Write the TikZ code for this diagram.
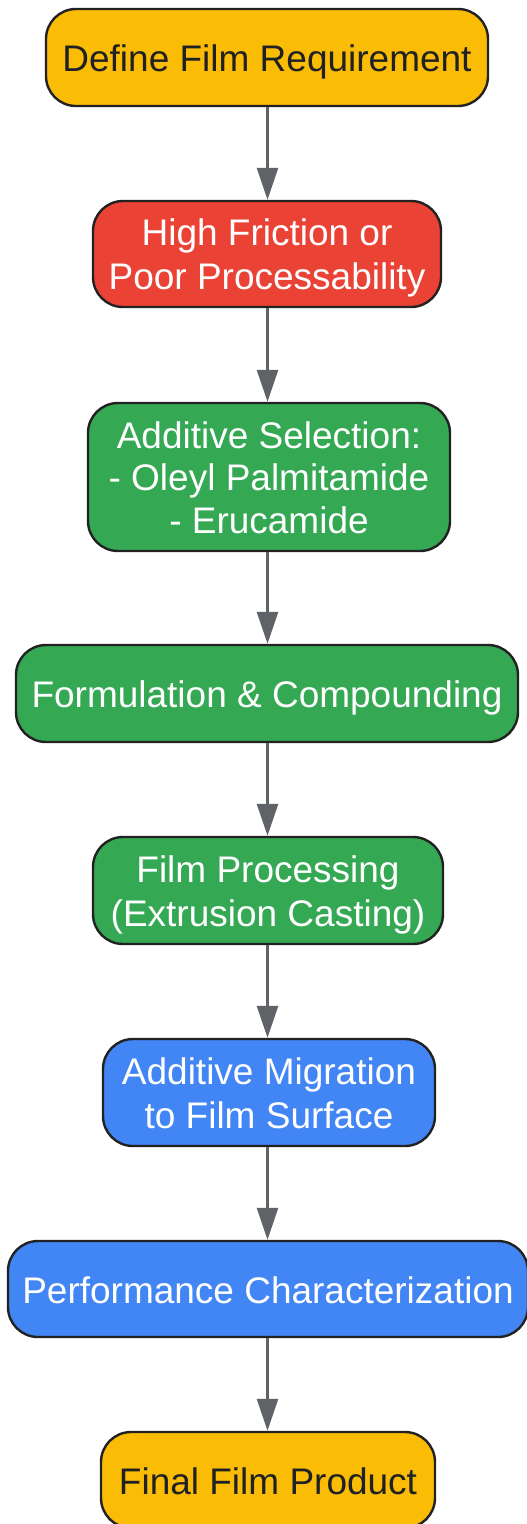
\documentclass[tikz,border=0pt]{standalone}
\usepackage{fontspec}
\setmainfont{Liberation Sans}
\usetikzlibrary{arrows.meta}
\definecolor{gyellow}{HTML}{FBBC05}
\definecolor{gred}{HTML}{EA4335}
\definecolor{ggreen}{HTML}{34A853}
\definecolor{gblue}{HTML}{4285F4}
\definecolor{edgegray}{HTML}{5F6368}
\definecolor{bordr}{HTML}{222222}
\definecolor{darktext}{HTML}{202124}
\newcommand\lnstrut{\rule[-7pt]{0pt}{42pt}}
\tikzset{
  box/.style={draw=bordr, line width=2.4pt, rounded corners=30pt, inner sep=0pt,
    align=center, font=\fontsize{37}{42}\selectfont},
  yel/.style={box, fill=gyellow, text=darktext},
  redb/.style={box, fill=gred, text=white},
  grn/.style={box, fill=ggreen, text=white},
  blu/.style={box, fill=gblue, text=white},
  conn/.style={draw=edgegray, line width=2.6pt, -{Triangle[length=32pt,width=21pt]}}
}
\begin{document}
\begin{tikzpicture}[x=1pt,y=-1pt]
\useasboundingbox (0,0) rectangle (527,1524);
\node[yel, minimum width=442pt, minimum height=97pt] (n1) at (267,57.5) {\lnstrut Define Film Requirement};
\node[redb, minimum width=348pt, minimum height=106pt] (n2) at (267,254) {\lnstrut High Friction or\\\lnstrut Poor Processability};
\node[grn, minimum width=362pt, minimum height=148pt] (n3) at (269,477) {\lnstrut Additive Selection:\\\lnstrut - Oleyl Palmitamide\\\lnstrut - Erucamide};
\node[grn, minimum width=502pt, minimum height=97pt] (n4) at (267,693.5) {\lnstrut Formulation \& Compounding};
\node[grn, minimum width=350pt, minimum height=107pt] (n5) at (268,890.5) {\lnstrut Film Processing\\\lnstrut (Extrusion Casting)};
\node[blu, minimum width=332pt, minimum height=107pt] (n6) at (269,1092.5) {\lnstrut Additive Migration\\\lnstrut to Film Surface};
\node[blu, minimum width=520pt, minimum height=96pt] (n7) at (268,1289) {\lnstrut Performance Characterization};
\node[yel, minimum width=334pt, minimum height=96pt] (n8) at (268,1480) {\lnstrut Final Film Product};
\foreach \a/\b in {n1/n2,n2/n3,n3/n4,n4/n5,n5/n6,n6/n7,n7/n8}{
  \draw[conn] (\a.south -| 267.5,0) -- (\b.north -| 267.5,0);
}
\end{tikzpicture}
\end{document}
